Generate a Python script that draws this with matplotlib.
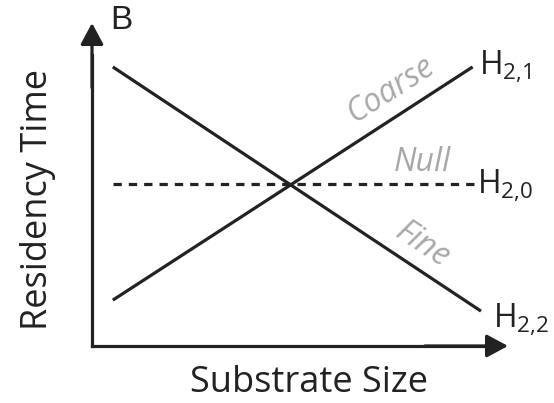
import matplotlib
matplotlib.use("Agg")
import matplotlib.pyplot as plt

# ---- data (conceptual units, 0..10 on both axes) ----
coarse_x = [0.5, 9.15]
coarse_y = [1.42, 8.64]
fine_x = [0.5, 9.35]
fine_y = [8.64, 1.08]
null_x = [0.5, 9.3]
null_y = [5.0, 5.0]

x_label = "Substrate Size"
y_label = "Residency Time"
panel = "B"
hyp_labels = [r"H$_{2{,}1}$", r"H$_{2{,}0}$", r"H$_{2{,}2}$"]
trend_labels = ["Coarse", "Null", "Fine"]

plt.rcParams['font.family'] = ['Open Sans', 'DejaVu Sans']
plt.rcParams['mathtext.fontset'] = 'custom'
plt.rcParams['mathtext.rm'] = 'Open Sans'
plt.rcParams['mathtext.it'] = 'Open Sans:italic'

W, H = 554, 403
fig = plt.figure(figsize=(W / 100, H / 100), dpi=100)
ax = fig.add_axes([92 / W, (H - 346) / H, (508 - 92) / W, (346 - 23) / H])
ax.set_xlim(0, 10)
ax.set_ylim(0, 10)
ax.axis('off')

lw = 2.3
dark = '#222222'
# axes with arrows
ax.plot([0, 0], [0, 9.0], color=dark, lw=lw, solid_capstyle='projecting', clip_on=False)
ax.plot([0, 9.4], [0, 0], color=dark, lw=lw, solid_capstyle='projecting', clip_on=False)
arrow_kw = dict(arrowstyle="-|>,head_length=1.3,head_width=0.7", color=dark, lw=lw,
                shrinkA=0, shrinkB=0, mutation_scale=10)
ax.annotate("", xy=(0, 10), xytext=(0, 8.0), arrowprops=arrow_kw, annotation_clip=False)
ax.annotate("", xy=(10, 0), xytext=(8.0, 0), arrowprops=arrow_kw, annotation_clip=False)

ax.plot(coarse_x, coarse_y, color=dark, lw=lw, solid_capstyle='butt', clip_on=False)
ax.plot(fine_x, fine_y, color=dark, lw=lw, solid_capstyle='butt', clip_on=False)
ax.plot(null_x, null_y, color=dark, lw=lw, linestyle=(0, (2.6, 2.2)), clip_on=False)

hsize = 23
ax.text(9.3, 8.64, hyp_labels[0], fontsize=hsize, color=dark, ha='left', va='center')
ax.text(9.26, 4.95, hyp_labels[1], fontsize=hsize, color=dark, ha='left', va='center')
ax.text(9.65, 0.82, hyp_labels[2], fontsize=hsize, color=dark, ha='left', va='center')

gray = '#a8a8a8'
gsize = 23
ax.text(7.2, 7.95, trend_labels[0], fontsize=gsize, color=gray, style='italic',
        rotation=32.6, rotation_mode='anchor', ha='center', va='center')
ax.text(7.94, 5.68, trend_labels[1], fontsize=gsize, color=gray, style='italic',
        ha='center', va='center')
ax.text(7.95, 3.12, trend_labels[2], fontsize=gsize, color=gray, style='italic',
        rotation=-33.5, rotation_mode='anchor', ha='center', va='center')

fig.text(110 / W, 1 - 5 / H, panel, fontsize=24, color=dark, family='Liberation Sans',
         ha='left', va='top')
fig.text(309 / W, 1 - 383 / H, x_label, fontsize=26, color=dark, ha='center', va='center')
fig.text(38 / W, 1 - 200 / H, y_label, fontsize=26, color=dark, ha='center', va='center',
         rotation=90)

fig.savefig("out.png", dpi=100)
